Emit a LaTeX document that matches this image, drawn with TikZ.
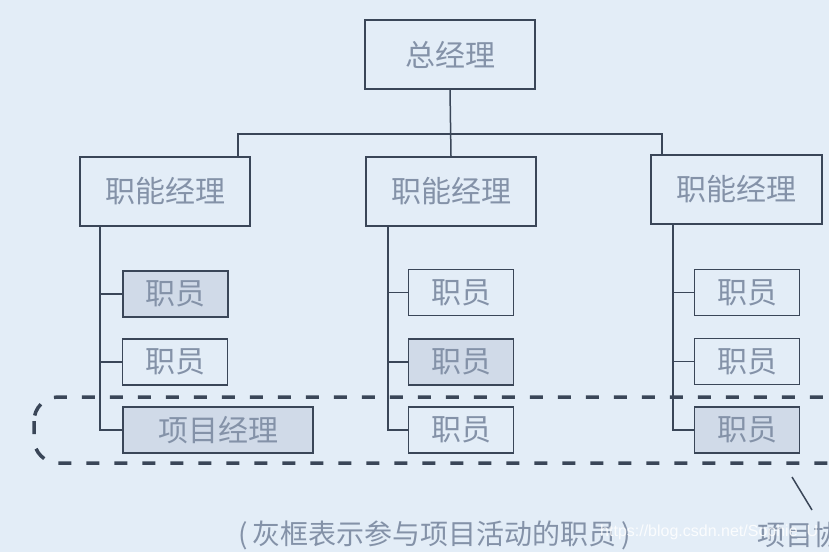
\documentclass[tikz,border=0pt]{standalone}
\usepackage{fontspec}
\setmainfont{Noto Sans CJK SC}
\newfontfamily\markfont{Liberation Sans}
\usetikzlibrary{positioning}
\definecolor{bgblue}{RGB}{227,237,247}
\definecolor{inkgray}{RGB}{58,70,88}
\definecolor{txtgray}{RGB}{132,146,168}
\definecolor{boxgray}{RGB}{208,218,232}

\begin{document}
\begin{tikzpicture}[x=1pt, y=-1pt,
  box/.style={draw=inkgray, line width=1.6pt, inner sep=0pt, text=txtgray,
    font=\fontsize{30}{32}\selectfont, minimum height=46pt},
  bigbox/.style={box, minimum width=170pt, minimum height=69pt},
  staff/.style={box, minimum width=105pt},
  grey/.style={fill=boxgray},
  link/.style={draw=inkgray, line width=1.5pt},
  group/.style={draw=inkgray, line width=3.5pt, dash pattern=on 13pt off 15pt,
    rounded corners=24pt}]
  % page
  \clip (0,0) rectangle (829,552);
  \fill[bgblue] (0,0) rectangle (829,552);
  % top manager
  \node[bigbox] (gm) at (450,54.5) {总经理};
  % functional managers
  \node[bigbox] (fma) at (165,191.5) {职能经理};
  \node[bigbox] (fmb) at (451,191.5) {职能经理};
  \node[bigbox, minimum width=171pt] (fmc) at (736.5,189.5) {职能经理};
  % staff, left column
  \node[staff, grey] (a1) at (175.5,294) {职员};
  \node[staff] (a2) at (175,362) {职员};
  \node[staff, grey, minimum width=190pt] (a3) at (218,430) {项目经理};
  % staff, middle column
  \node[staff] (b1) at (461,292.5) {职员};
  \node[staff, grey] (b2) at (461,362) {职员};
  \node[staff] (b3) at (461,430) {职员};
  % staff, right column
  \node[staff] (c1) at (747,292.5) {职员};
  \node[staff] (c2) at (747,361.5) {职员};
  \node[staff, grey] (c3) at (747,430) {职员};
  % bus from the top
  \coordinate (busL) at (238,134);
  \coordinate (busR) at (662,134);
  \draw[link] (gm.south) -- (fmb.north);
  \draw[link] (busL |- fma.north) -- (busL) -- (busR) -- (busR |- fmc.north);
  % stems
  \foreach \c/\sx in {a/100, b/388, c/673} {
    \coordinate (stem\c) at (\sx,200);
    \draw[link] (stem\c |- fm\c.south) |- (\c3.west);
    \draw[link] (stem\c |- \c1.west) -- (\c1.west);
    \draw[link] (stem\c |- \c2.west) -- (\c2.west);
  }
  % project group
  \draw[group] (34,397) rectangle (880,463);
  % note
  \node[text=txtgray, font=\fontsize{28}{30}\selectfont, inner sep=0pt]
    (note) at (435,535) {(\,灰框表示参与项目活动的职员\,)};
  \node[text=txtgray, font=\fontsize{28}{30}\selectfont, inner sep=0pt, anchor=west]
    (team) at (757,535) {项目协};
  \coordinate (tip) at (792,477);
  \coordinate (tipend) at (812,510);
  \draw[link] (tip) -- (tipend);
  \node[text=white, opacity=0.85, font=\markfont\fontsize{16}{18}\selectfont,
    inner sep=0pt, anchor=west] (url) at (600,532) {https://blog.csdn.net/Sophie\_U};
\end{tikzpicture}
\end{document}
